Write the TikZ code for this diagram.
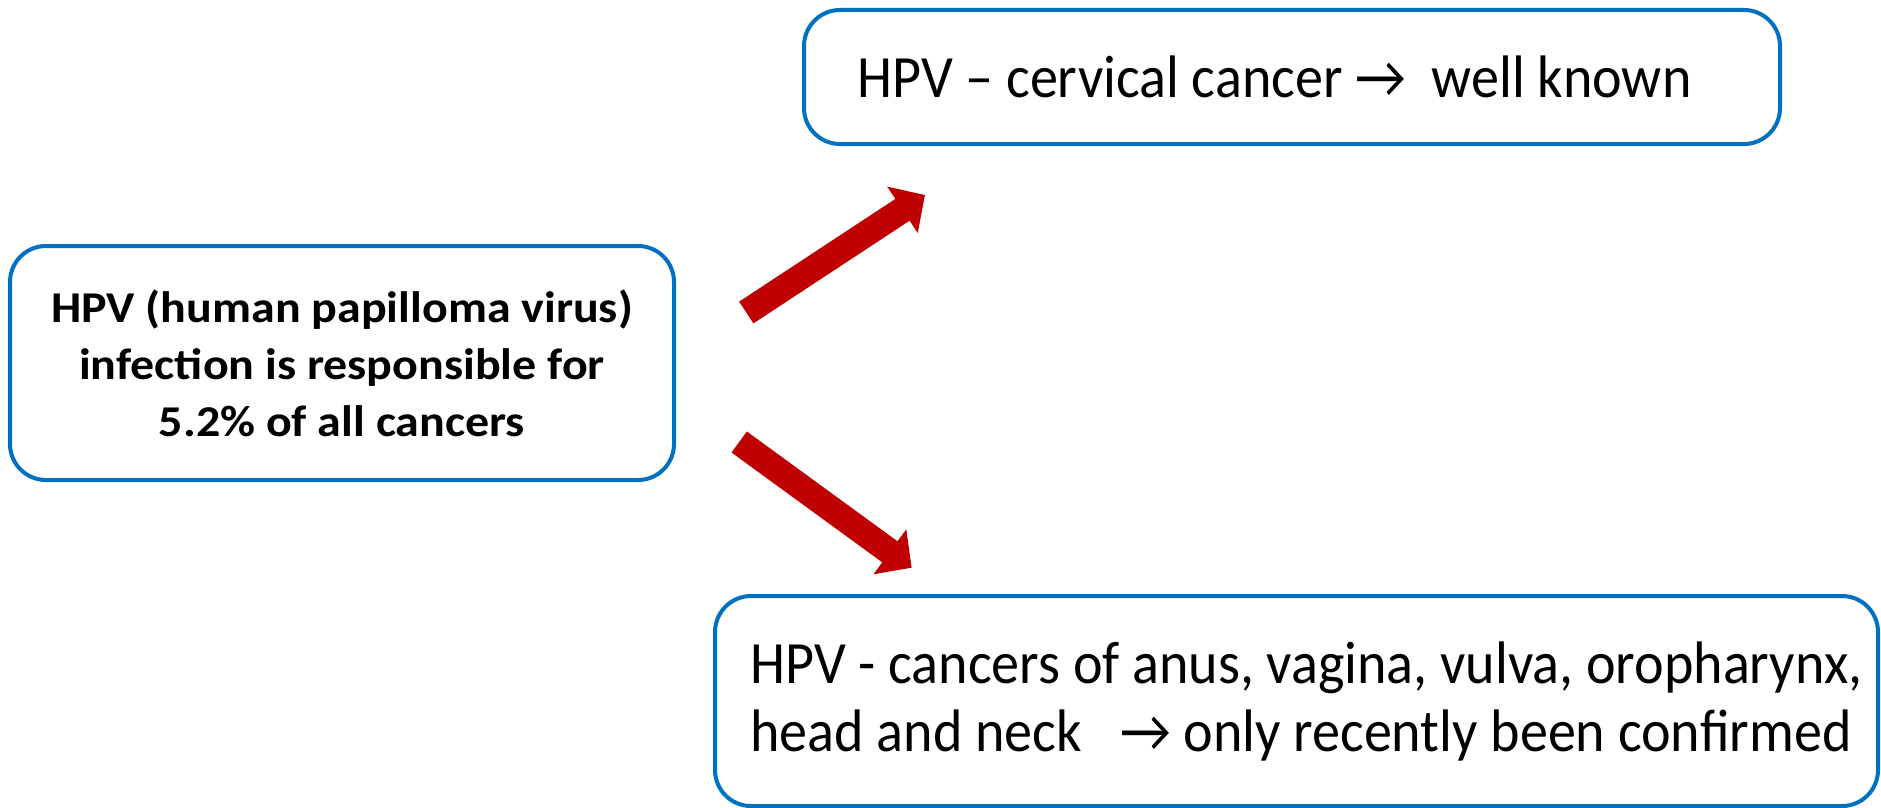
\documentclass[tikz,border=0pt]{standalone}
\usepackage{fontspec}
\setmainfont{Carlito}
\newfontfamily\narrowfont[FakeStretch=0.935]{Carlito}
\newfontfamily\widefont[FakeStretch=1.09]{Carlito}
\usetikzlibrary{arrows.meta}
\definecolor{boxblue}{RGB}{0,112,192}
\definecolor{arrred}{RGB}{192,0,0}
\begin{document}
\begin{tikzpicture}[x=1pt,y=-1pt,
  box/.style={draw=boxblue, line width=4pt, rounded corners=36pt, inner sep=0pt, fill=white},
  bigarrow/.style={draw=arrred, line width=26pt, line cap=butt, -{Triangle[width=54pt,length=27pt]}}]
\useasboundingbox (0,0) rectangle (1881,808);
\node[box, minimum width=664pt, minimum height=234pt] (src) at (342,363) {};
\node[align=center, font=\widefont\fontsize{44}{57}\selectfont\bfseries] (srctext) at (src.center)
  {HPV (human papilloma virus)\\infection is responsible for\\5.2\% of all cancers};
\node[box, minimum width=976pt, minimum height=134pt] (top) at (1292,77) {};
\node[anchor=west, font=\narrowfont\fontsize{60}{66}\selectfont] (toptext) at ([xshift=52pt]top.west)
  {HPV – cervical cancer →\ \ well known};
\node[box, minimum width=1163pt, minimum height=210pt] (bot) at (1296.5,701) {};
\node[anchor=west, align=left, font=\narrowfont\fontsize{60}{68}\selectfont] (bottext) at ([xshift=34pt]bot.west)
  {HPV - cancers of anus, vagina, vulva, oropharynx,\\head and neck\ \ \ → only recently been confirmed};
\coordinate (a1s) at (746.3,312.5);
\coordinate (a1e) at (925,195);
\coordinate (a2s) at (739.2,442);
\coordinate (a2e) at (911.7,567.7);
\draw[bigarrow] (a1s) -- (a1e);
\draw[bigarrow] (a2s) -- (a2e);
\end{tikzpicture}
\end{document}
